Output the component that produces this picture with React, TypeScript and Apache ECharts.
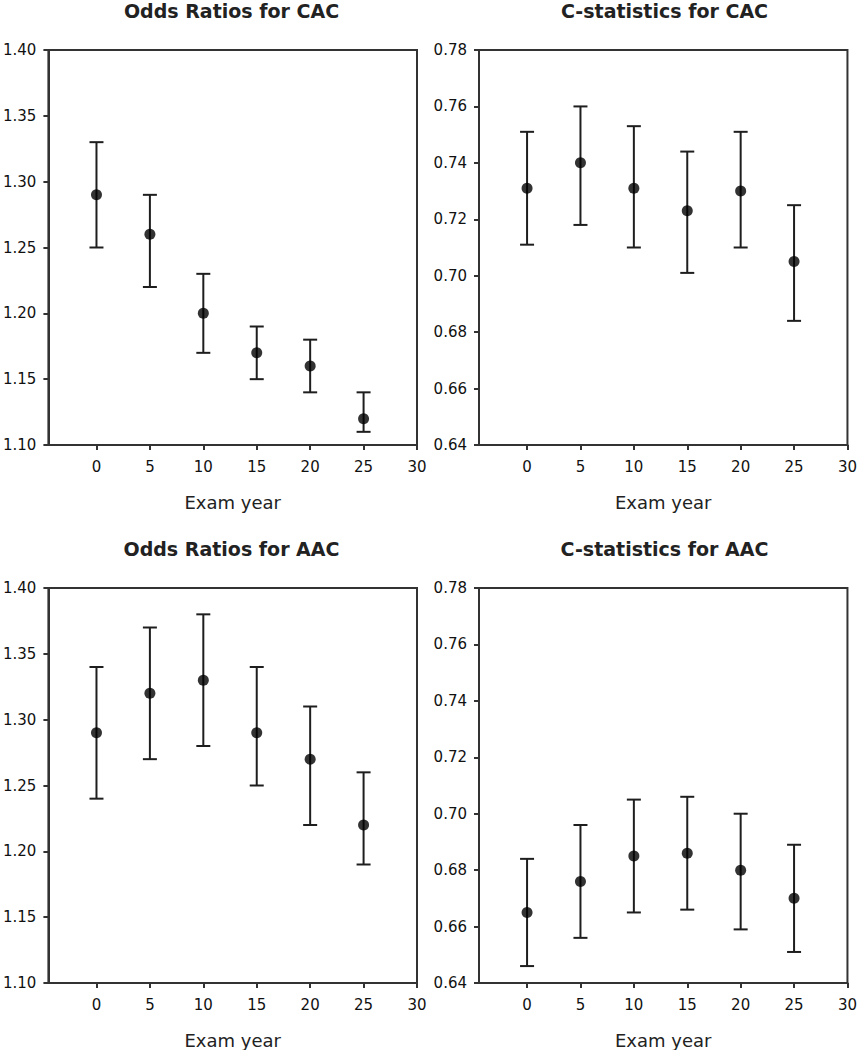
import React, { useEffect, useRef } from "react";
import * as echarts from "echarts";

// Exam years
const years = [0, 5, 10, 15, 20, 25];
const xTicks = [0, 5, 10, 15, 20, 25, 30];

// Odds Ratios for CAC
const orCacMid = [1.29, 1.26, 1.2, 1.17, 1.16, 1.12];
const orCacLow = [1.25, 1.22, 1.17, 1.15, 1.14, 1.11];
const orCacHigh = [1.33, 1.29, 1.23, 1.19, 1.18, 1.14];

// C-statistics for CAC
const cCacMid = [0.731, 0.74, 0.731, 0.723, 0.73, 0.705];
const cCacLow = [0.711, 0.718, 0.71, 0.701, 0.71, 0.684];
const cCacHigh = [0.751, 0.76, 0.753, 0.744, 0.751, 0.725];

// Odds Ratios for AAC
const orAacMid = [1.29, 1.32, 1.33, 1.29, 1.27, 1.22];
const orAacLow = [1.24, 1.27, 1.28, 1.25, 1.22, 1.19];
const orAacHigh = [1.34, 1.37, 1.38, 1.34, 1.31, 1.26];

// C-statistics for AAC
const cAacMid = [0.665, 0.676, 0.685, 0.686, 0.68, 0.67];
const cAacLow = [0.646, 0.656, 0.665, 0.666, 0.659, 0.651];
const cAacHigh = [0.684, 0.696, 0.705, 0.706, 0.7, 0.689];

// Tick labels
const orTicks = [1.1, 1.15, 1.2, 1.25, 1.3, 1.35, 1.4];
const cTicks = [0.64, 0.66, 0.68, 0.7, 0.72, 0.74, 0.76, 0.78];

const titles = [
  "Odds Ratios for CAC",
  "C-statistics for CAC",
  "Odds Ratios for AAC",
  "C-statistics for AAC",
];
const xName = "Exam year";

const FONT = "DejaVu Sans";
const AXIS_COLOR = "#333";
const BAR_COLOR = "#1e1e1e";

const panels = [
  { left: 46, top: 50, width: 371, height: 395, ticks: orTicks, mid: orCacMid, lo: orCacLow, hi: orCacHigh },
  { left: 479, top: 50, width: 371, height: 395, ticks: cTicks, mid: cCacMid, lo: cCacLow, hi: cCacHigh },
  { left: 46, top: 588, width: 371, height: 395, ticks: orTicks, mid: orAacMid, lo: orAacLow, hi: orAacHigh },
  { left: 479, top: 588, width: 371, height: 395, ticks: cTicks, mid: cAacMid, lo: cAacLow, hi: cAacHigh },
];

export default function App() {
  const ref = useRef<HTMLDivElement>(null);

  useEffect(() => {
    document.body.style.margin = "0";
    if (!ref.current) return;
    const chart = echarts.init(ref.current, null, { renderer: "svg" });

    const grid: any[] = [];
    const xAxis: any[] = [];
    const yAxis: any[] = [];
    const series: any[] = [];
    const graphic: any[] = [];

    panels.forEach((p, i) => {
      grid.push({
        left: p.left,
        top: p.top,
        width: p.width,
        height: p.height,
        show: true,
        borderColor: AXIS_COLOR,
        borderWidth: 2,
        backgroundColor: "#fff",
        containLabel: false,
      });
      xAxis.push({
        type: "value",
        gridIndex: i,
        min: -4.5,
        max: 30,
        name: xName,
        nameLocation: "middle",
        nameGap: 48,
        nameTextStyle: { fontFamily: FONT, fontSize: 18, color: "#222" },
        axisLine: { show: true, onZero: false, lineStyle: { color: AXIS_COLOR, width: 2 } },
        axisTick: { show: true, length: 5, inside: false, customValues: xTicks, lineStyle: { color: AXIS_COLOR, width: 2 } },
        axisLabel: {
          show: true,
          customValues: xTicks,
          margin: 14,
          fontFamily: FONT,
          fontSize: 15,
          color: "#111",
        },
        splitLine: { show: false },
      });
      yAxis.push({
        type: "value",
        gridIndex: i,
        min: p.ticks[0],
        max: p.ticks[p.ticks.length - 1],
        axisLine: { show: true, onZero: false, lineStyle: { color: AXIS_COLOR, width: 2 } },
        axisTick: { show: true, length: 5, inside: false, customValues: p.ticks, lineStyle: { color: AXIS_COLOR, width: 2 } },
        axisLabel: {
          show: true,
          customValues: p.ticks,
          margin: 12,
          fontFamily: FONT,
          fontSize: 15,
          color: "#111",
          formatter: (v: number) => v.toFixed(2),
        },
        splitLine: { show: false },
      });
      series.push({
        type: "custom",
        xAxisIndex: i,
        yAxisIndex: i,
        z: 2,
        data: years.map((y, k) => [y, p.lo[k], p.hi[k]]),
        encode: { x: 0, y: [1, 2] },
        renderItem: (params: any, api: any) => {
          const x = api.value(0);
          const pLo = api.coord([x, api.value(1)]);
          const pHi = api.coord([x, api.value(2)]);
          const w = 7;
          const style = { stroke: BAR_COLOR, lineWidth: 2 };
          return {
            type: "group",
            children: [
              { type: "line", shape: { x1: pHi[0], y1: pHi[1], x2: pLo[0], y2: pLo[1] }, style },
              { type: "line", shape: { x1: pHi[0] - w, y1: pHi[1], x2: pHi[0] + w, y2: pHi[1] }, style },
              { type: "line", shape: { x1: pLo[0] - w, y1: pLo[1], x2: pLo[0] + w, y2: pLo[1] }, style },
            ],
          };
        },
      });
      series.push({
        type: "scatter",
        xAxisIndex: i,
        yAxisIndex: i,
        z: 3,
        symbol: "circle",
        symbolSize: 11,
        itemStyle: { color: "#000" },
        data: years.map((y, k) => [y, p.mid[k]]),
      });
      graphic.push({
        type: "text",
        x: p.left + p.width / 2,
        y: p.top - 39,
        style: {
          text: titles[i],
          fontFamily: FONT,
          fontSize: 19,
          fontWeight: "bold",
          fill: "#222",
          textAlign: "center",
          textVerticalAlign: "middle",
        },
      });
    });

    chart.setOption({
      animation: false,
      backgroundColor: "#fff",
      grid,
      xAxis,
      yAxis,
      series,
      graphic,
    });

    return () => {
      chart.dispose();
    };
  }, []);

  return <div ref={ref} style={{ width: 860, height: 1050 }} />;
}
